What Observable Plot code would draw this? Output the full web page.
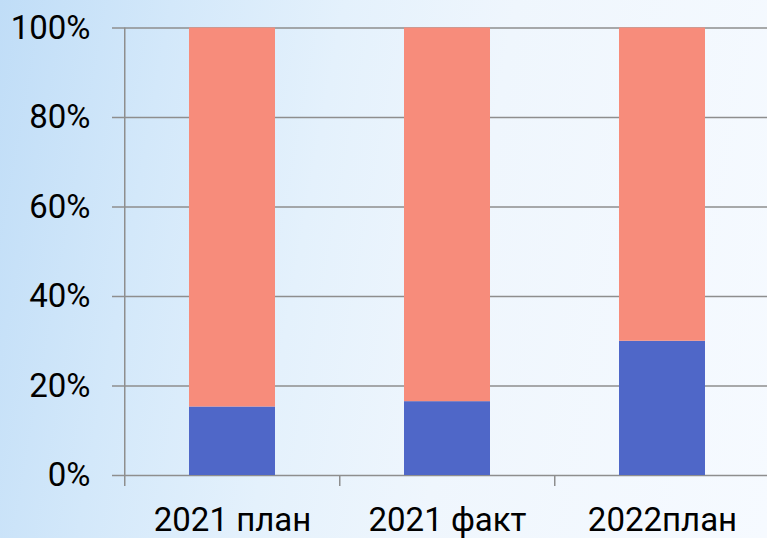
<!DOCTYPE html>
<html>
<head>
<meta charset="utf-8">
<script src="https://cdn.jsdelivr.net/npm/d3@7"></script>
<script src="https://cdn.jsdelivr.net/npm/@observablehq/plot@0.6"></script>
<style>
  html, body { margin: 0; padding: 0; }
  body {
    width: 767px; height: 538px; overflow: hidden;
    background: linear-gradient(100deg, #c0ddf7 0%, #d3e8fa 20%, #e4f1fc 40%, #eff6fd 60%, #f6faff 100%);
    font-family: Roboto, sans-serif;
  }
</style>
</head>
<body>
<div id="chart"></div>
<script>
const categories = ["2021 план", "2021 факт", "2022план"];
const seriesNames = ["Серия 1", "Серия 2"];
const series1Values = [15.3, 16.5, 30.0];
const series2Values = [84.7, 83.5, 70.0];
const yTicks = [0, 0.2, 0.4, 0.6, 0.8, 1.0];
const colors = ["#4f67c8", "#f78c7b"];

const data = [];
categories.forEach((c, i) => {
  data.push({cat: c, series: seriesNames[0], value: series1Values[i] / 100});
  data.push({cat: c, series: seriesNames[1], value: series2Values[i] / 100});
});

const xRange = [124, 770.5];
const step = (xRange[1] - xRange[0]) / categories.length;
const grey = "#8e8e8e";

const chart = Plot.plot({
  width: 767,
  height: 538,
  marginTop: 27.5,
  marginBottom: 63,
  marginLeft: 124,
  marginRight: 0,
  style: {background: "transparent", fontFamily: "Roboto, sans-serif", overflow: "hidden"},
  x: {domain: categories, range: xRange, paddingInner: 0.6, paddingOuter: 0.3},
  y: {domain: [0, 1]},
  color: {domain: seriesNames, range: colors},
  marks: [
    Plot.ruleY(yTicks, {y: d => d, stroke: grey, strokeWidth: 1.5}),
    Plot.barY(data, Plot.stackY({x: "cat", y: "value", fill: "series", order: null})),
    Plot.ruleX(categories, {x: d => d, dx: -step / 2, y1: (d, i) => i === 0 ? 1 : 0, y2: -0.0245, stroke: grey, strokeWidth: 1.5}),
    Plot.axisY(yTicks, {tickFormat: d3.format(".0%"), tickSize: 12, tickPadding: 22, fontSize: 33, stroke: grey, strokeWidth: 1.5, fill: "#000", label: null}),
    Plot.axisX({tickSize: 0, tickPadding: 32, fontSize: 33, fill: "#000", label: null})
  ]
});
document.getElementById("chart").appendChild(chart);
</script>
</body>
</html>
